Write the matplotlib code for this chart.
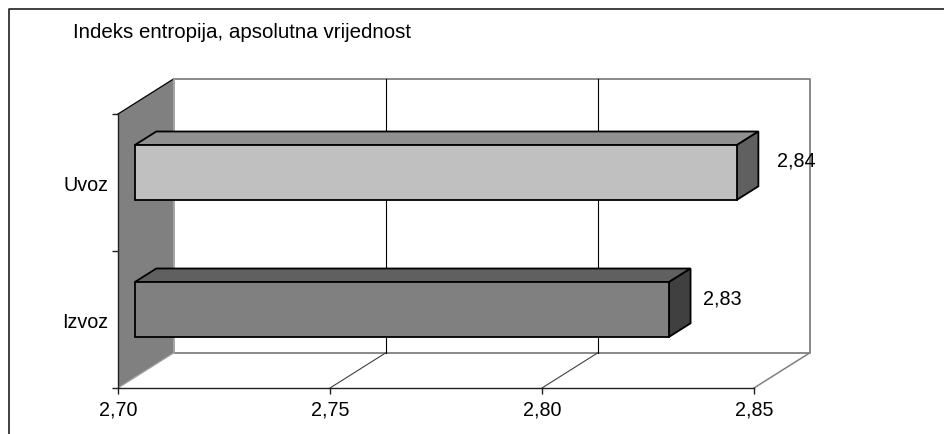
import matplotlib
matplotlib.use("Agg")
import matplotlib.pyplot as plt
from matplotlib.patches import Polygon
from matplotlib.lines import Line2D

plt.rcParams['font.family'] = ['Liberation Sans', 'DejaVu Sans']

title = "Indeks entropija, apsolutna vrijednost"
categories = ["Izvoz", "Uvoz"]
values = [2.826, 2.842]
value_labels = ["2,83", "2,84"]
x_ticks = [2.70, 2.75, 2.80, 2.85]
x_tick_labels = ["2,70", "2,75", "2,80", "2,85"]
front_colors = ["#808080", "#C0C0C0"]
top_colors = ["#606060", "#909090"]
side_colors = ["#404040", "#606060"]

W, H = 945, 435
FS = 14.2
fig = plt.figure(figsize=(W / 100, H / 100), dpi=100, facecolor="white")
ax = fig.add_axes([118 / W, 1 - 389 / H, (754 - 118) / W, (389 - 115) / H])
ax.set_xlim(2.70, 2.85)
ax.set_ylim(0, 2)
ax.patch.set_visible(False)

# 3-D depth expressed in data units: full depth of the chart box
x_per_px = 0.15 / 636
y_per_px = 2 / 274
DX, DY = 55.5 * x_per_px, 35 * y_per_px


def proj(x, y, d):
    return (x + d * DX, y + d * DY)


xmin, xmax = x_ticks[0], x_ticks[-1]
GRAY = "#808080"

# back wall
ax.plot(*zip(proj(xmin, 2, 1), proj(xmax, 2, 1), proj(xmax, 0, 1), proj(xmin, 0, 1)),
        color=GRAY, lw=1.3, clip_on=False, zorder=1)
# side wall
ax.add_patch(Polygon([proj(xmin, 0, 0), proj(xmin, 2, 0), proj(xmin, 2, 1), proj(xmin, 0, 1)],
                     closed=True, fc=GRAY, ec="none", clip_on=False, zorder=1))
ax.plot(*zip(proj(xmin, 2, 0), proj(xmin, 2, 1)), color="black", lw=0.9, clip_on=False, zorder=2)
ax.plot(*zip(proj(xmin, 2, 1), proj(xmin, 0, 1)), color="#A0A0A0", lw=1.3, clip_on=False, zorder=2)
ax.plot(*zip(proj(xmin, 0, 0), proj(xmin, 0, 1)), color="#A0A0A0", lw=0.9, clip_on=False, zorder=2)

# grid on wall and floor
for t in x_ticks[1:-1]:
    ax.plot(*zip(proj(t, 2, 1), proj(t, 0, 1)), color="black", lw=0.8, clip_on=False, zorder=2)
    ax.plot(*zip(proj(t, 0, 1), proj(t, 0, 0)), color="#404040", lw=0.8, clip_on=False, zorder=2)
ax.plot(*zip(proj(xmax, 0, 1), proj(xmax, 0, 0)), color=GRAY, lw=1.1, clip_on=False, zorder=2)

# bars
D0, D1 = 0.30, 0.69
BAR_H = 0.40
BAR_SHIFT = -0.004
for i, (v, fc, tc, sc) in enumerate(zip(values, front_colors, top_colors, side_colors)):
    lo, hi = i + 0.5 - BAR_H / 2 + BAR_SHIFT, i + 0.5 + BAR_H / 2 + BAR_SHIFT
    top = [proj(xmin, hi, D0), proj(v, hi, D0), proj(v, hi, D1), proj(xmin, hi, D1)]
    side = [proj(v, lo, D0), proj(v, hi, D0), proj(v, hi, D1), proj(v, lo, D1)]
    front = [proj(xmin, lo, D0), proj(v, lo, D0), proj(v, hi, D0), proj(xmin, hi, D0)]
    for pts, c in ((top, tc), (side, sc), (front, fc)):
        ax.add_patch(Polygon(pts, closed=True, fc=c, ec="black", lw=1.3,
                             joinstyle="miter", clip_on=False, zorder=3))

# data labels (offsets in pixels from the bar's back-right centre)
label_offsets = [(12, -3), (19, -2)]
for i, (v, lab, off) in enumerate(zip(values, value_labels, label_offsets)):
    ax.annotate(lab, xy=proj(v, i + 0.5, D1), xytext=(off[0] * 0.72, off[1] * 0.72),
                textcoords="offset points", ha="left", va="center",
                fontsize=FS, color="black", zorder=5, annotation_clip=False)

# axes
for s in ("top", "right"):
    ax.spines[s].set_visible(False)
for s in ("left", "bottom"):
    ax.spines[s].set_linewidth(1)
    ax.spines[s].set_color("#202020")
ax.set_xticks(x_ticks)
ax.set_xticklabels(x_tick_labels, fontsize=FS)
ax.tick_params(axis="x", length=4, width=1, pad=4.5, color="#202020")
ax.set_yticks([0, 1, 2])
ax.set_yticklabels([])
ax.tick_params(axis="y", which="major", length=4, width=1, color="#202020")
ax.set_yticks([0.5, 1.5], minor=True)
ax.set_yticklabels(categories, minor=True, fontsize=FS, va="center_baseline")
ax.tick_params(axis="y", which="minor", length=0, pad=7)

# title and chart border
fig.text(73 / W, 1 - 32 / H, title, ha="left", va="center", fontsize=14.75)
fig.add_artist(Line2D([9 / W, 9 / W, 1], [0, 1 - 9.5 / H, 1 - 9.5 / H],
                      transform=fig.transFigure, color="#202020", lw=1.2))

fig.savefig("out.png", dpi=100)
